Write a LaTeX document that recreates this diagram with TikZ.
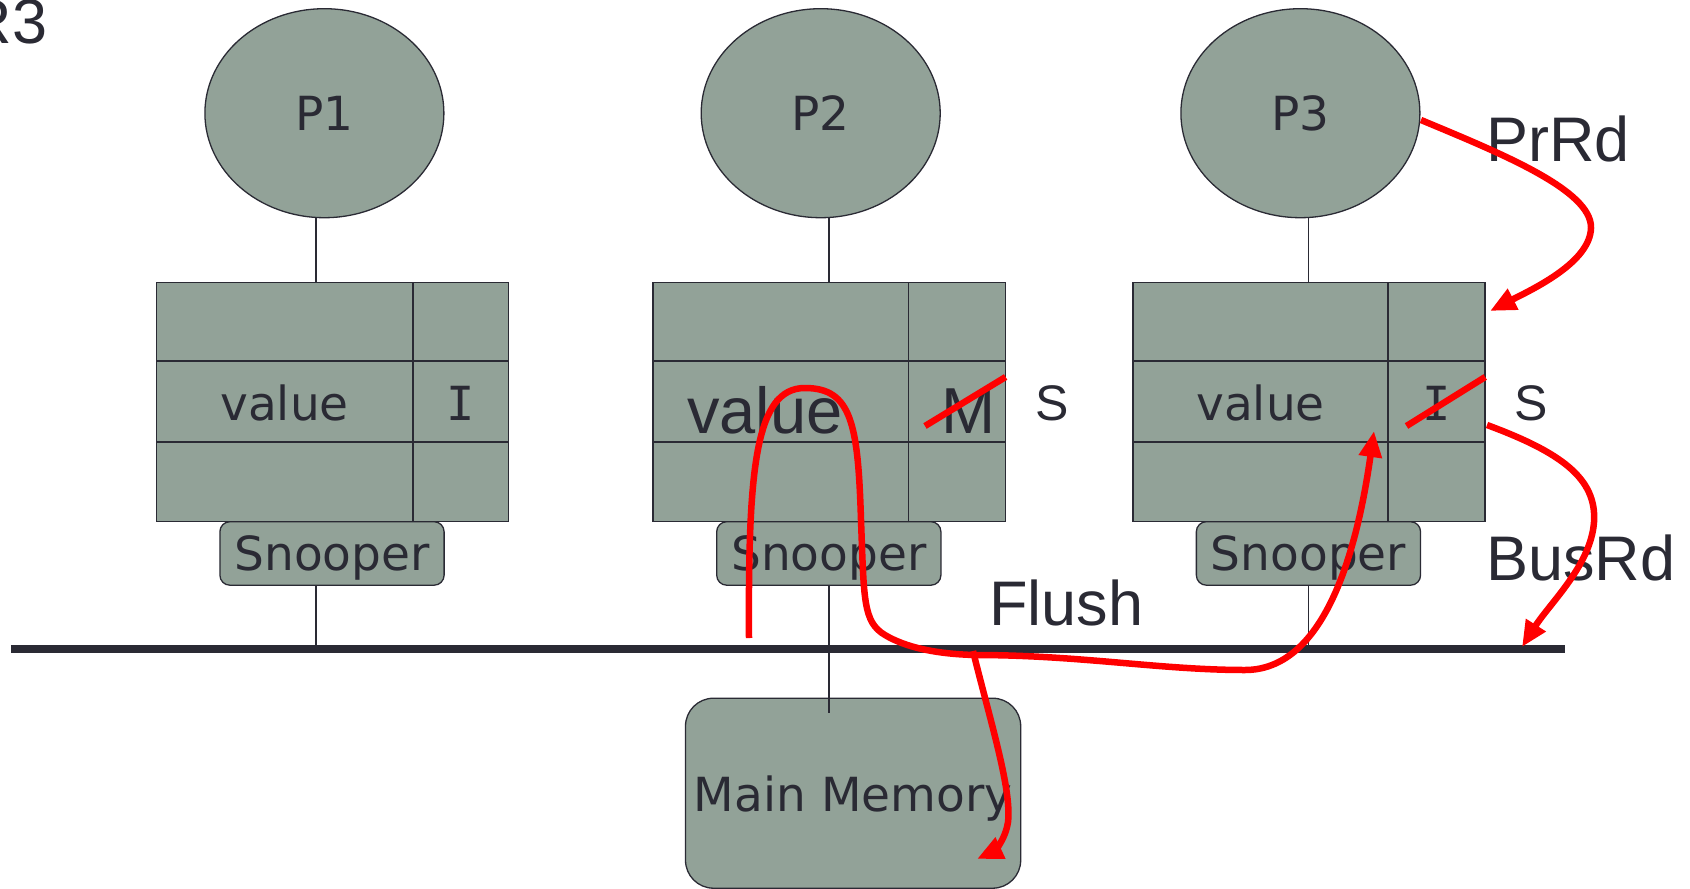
\documentclass[tikz,border=0pt]{standalone}
\usepackage{fontspec}
\setmainfont{DejaVu Sans}
\newfontfamily\arialf{Liberation Sans}
\newfontfamily\monof{DejaVu Sans Mono}
\usetikzlibrary{shapes.geometric,arrows.meta}
\definecolor{boxfill}{RGB}{146,162,152}
\definecolor{ink}{RGB}{42,42,52}
\definecolor{redline}{RGB}{255,0,0}
\tikzset{
  proc/.style={ellipse, draw=ink, line width=1.3pt, fill=boxfill, minimum width=239pt, minimum height=209pt, inner sep=0pt, font=\fontsize{47}{50}\selectfont, text=ink},
  cache/.style={rectangle, draw=ink, line width=1.5pt, fill=boxfill, minimum width=352.4pt, minimum height=239.3pt, inner sep=0pt},
  snoop/.style={rectangle, rounded corners=10pt, draw=ink, line width=1.3pt, fill=boxfill, minimum width=224.2pt, minimum height=63.5pt, inner sep=0pt, text depth=0pt, font=\fontsize{47}{50}\selectfont, text=ink},
  mem/.style={rectangle, rounded corners=28pt, draw=ink, line width=1.3pt, fill=boxfill, minimum width=335.2pt, minimum height=190pt, inner sep=0pt, text depth=0pt, font=\fontsize{47}{50}\selectfont, text=ink},
  wire/.style={draw=ink, line width=1.5pt},
  busline/.style={draw=ink, line width=8.6pt},
  celltext/.style={font=\fontsize{47}{50}\selectfont, text=ink, inner sep=0pt, anchor=base},
  bigcell/.style={font=\arialf\fontsize{65}{68}\selectfont, text=ink, inner sep=0pt, anchor=base west},
  lbl/.style={font=\arialf\fontsize{63}{66}\selectfont, text=ink, inner sep=0pt},
  slbl/.style={font=\arialf\fontsize{50}{52}\selectfont, text=ink, inner sep=0pt, anchor=base},
  redpath/.style={draw=redline, line width=6.5pt},
  redarrow/.style={redpath, -{Triangle[length=26pt,width=22pt]}},
}
\begin{document}
\begin{tikzpicture}[x=1pt,y=-1pt]
\useasboundingbox (0,0) rectangle (1690,889);
\clip (0,0) rectangle (1690,889);

% stem x positions and bus ends
\coordinate (s1) at (316,0);
\coordinate (s2) at (828.8,0);
\coordinate (s3) at (1308.5,0);
\coordinate (busL) at (10.8,649);
\coordinate (busR) at (1565,649);
\coordinate (memend) at (828.8,713);

% processors
\node[proc] (p1) at (324.4,113.2) {P1};
\node[proc] (p2) at (820.7,113.2) {P2};
\node[proc] (p3) at (1300.4,113.2) {P3};

% caches
\node[cache] (t1) at (332.5,402.05) {};
\node[cache] (t2) at (829.35,402.05) {};
\node[cache] (t3) at (1309,402.05) {};
\foreach \L/\R/\D in {156.3/508.7/412.8, 653.1/1005.6/908.6, 1132.8/1485.2/1388.2}{
  \draw[wire] (\L,361) -- (\R,361) (\L,441.9) -- (\R,441.9) (\D,282.4) -- (\D,521.7);
}

% snoopers
\node[snoop] (n1) at (332,553.45) {Snooper};
\node[snoop] (n2) at (828.8,553.45) {Snooper};
\node[snoop] (n3) at (1308.45,553.45) {Snooper};

% main memory
\node[mem] (mm) at (853.1,793.2) {Main Memory};

% stems
\draw[wire] (p1.south -| s1) -- (t1.north -| s1);
\draw[wire] (p2.south -| s2) -- (t2.north -| s2);
\draw[wire] (p3.south -| s3) -- (t3.north -| s3);
\draw[wire] (n1.south -| s1) -- (s1 |- busL);
\draw[wire] (n2.south -| s2) -- (memend);
\draw[wire] (n3.south -| s3) -- (s3 |- busL);

% bus
\draw[busline] (busL) -- (busR);

% cell texts
\node[celltext] (v1) at (284.5,420.5) {value};
\node[celltext, font=\monof\fontsize{47}{50}\selectfont] (i1) at (460.7,420.5) {I};
\node[bigcell] (v2) at (687,433) {value};
\node[bigcell] (m2) at (941,433) {M};
\node[celltext] (v3) at (1260.5,420.5) {value};
\node[celltext, font=\monof\fontsize{47}{50}\selectfont] (i3) at (1436.7,420.5) {I};

% labels
\node[slbl] (s2l) at (1052,420) {S};
\node[slbl] (s3l) at (1531,420) {S};
\node[lbl, anchor=base west] (prrd) at (1486,161.7) {PrRd};
\node[lbl, anchor=base west] (busrd) at (1486,580) {BusRd};
\node[lbl, anchor=base west] (flush) at (989,625) {Flush};
\node[lbl, anchor=base east] (r3) at (47.5,43) {R3};

% red annotations
\coordinate (a0) at (1421,120);
\coordinate (a1) at (1490,311);
\coordinate (b0) at (1487,425);
\coordinate (b1) at (1522,647);
\coordinate (c0) at (749,638);
\coordinate (c1) at (1374,431);
\coordinate (d0) at (973,651);
\coordinate (d1) at (977,859);
\coordinate (x1a) at (925,426);
\coordinate (x1b) at (1005.6,377);
\coordinate (x2a) at (1406.5,426);
\coordinate (x2b) at (1485.2,377);

\draw[redpath] (x1a) -- (x1b);
\draw[redpath] (x2a) -- (x2b);
\draw[redarrow] (a0) .. controls (1500,153) and (1592,190) .. (1591,228)
  .. controls (1590,262) and (1535,288) .. (a1);
\draw[redarrow] (b0) .. controls (1560,452) and (1597,478) .. (1594,522)
  .. controls (1591,565) and (1550,603) .. (b1);
\draw[redarrow] (c0) .. controls (748,470) and (755,388) .. (805,388)
  .. controls (852,388) and (858,425) .. (861,520)
  .. controls (864,600) and (863,622) .. (885,635)
  .. controls (905,647) and (935,654) .. (975,655)
  .. controls (1080,655) and (1160,670) .. (1245,670)
  .. controls (1320,670) and (1355,565) .. (c1);
\draw[redarrow] (d0) .. controls (990,720) and (1012,790) .. (1008,822)
  .. controls (1005,842) and (992,852) .. (d1);
\end{tikzpicture}
\end{document}
